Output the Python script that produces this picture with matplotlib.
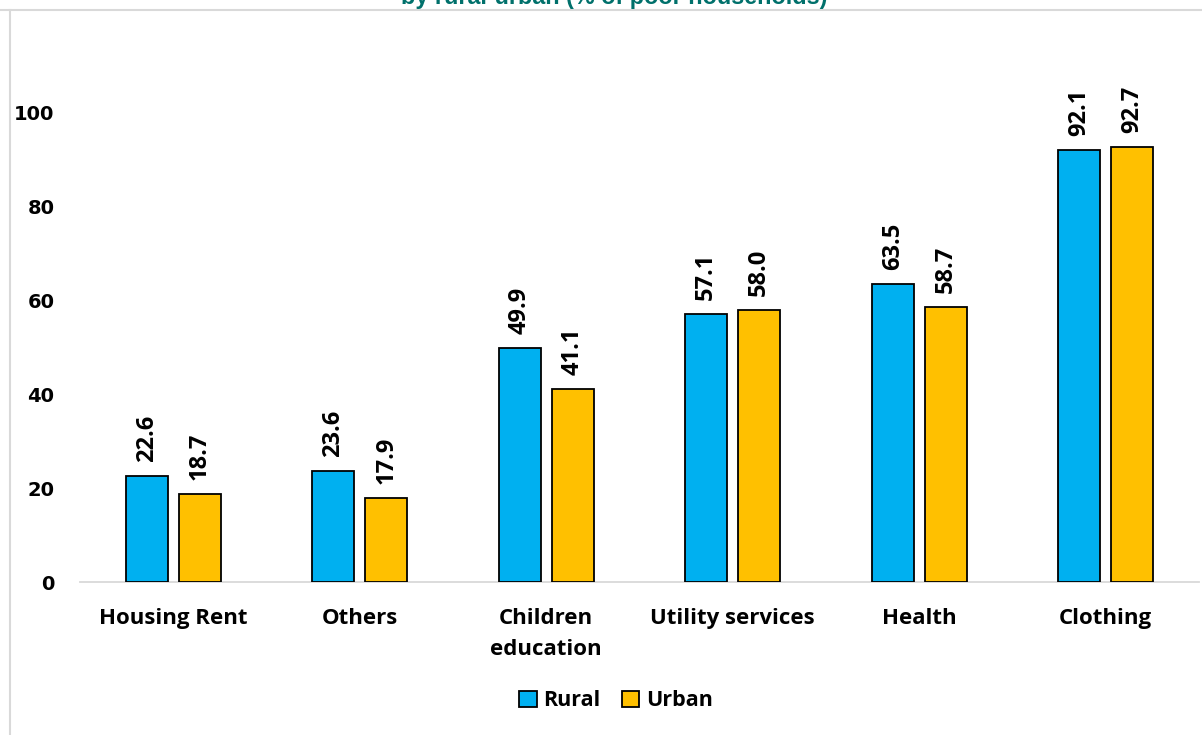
import matplotlib
matplotlib.use("Agg")
import matplotlib.pyplot as plt
from matplotlib.lines import Line2D
from matplotlib.patches import Patch
import numpy as np

# ---- data -----------------------------------------------------------------
categories = ["Housing Rent", "Others", "Children\neducation",
              "Utility services", "Health", "Clothing"]
rural = [22.6, 23.6, 49.9, 57.1, 63.5, 92.1]
urban = [18.7, 17.9, 41.1, 58.0, 58.7, 92.7]
yticks = [0, 20, 40, 60, 80, 100]
title = "by rural-urban (% of poor households)"

RURAL_C = "#00B0F0"
URBAN_C = "#FFC000"
GRID_C = "#D9D9D9"
FONT = "Open Sans"

fig = plt.figure(figsize=(12.02, 7.35), dpi=100)
ax = fig.add_axes([80 / 1202, (735 - 582) / 735, 1119 / 1202, 120 * 4.69 / 735])

x = np.arange(len(categories))
w = 0.225
off = 0.142
b1 = ax.bar(x - off, rural, w, color=RURAL_C, edgecolor="black", linewidth=1.3,
            label="Rural", zorder=3)
b2 = ax.bar(x + off, urban, w, color=URBAN_C, edgecolor="black", linewidth=1.3,
            label="Urban", zorder=3)

for bars in (b1, b2):
    for b in bars:
        ax.annotate(f"{b.get_height():.1f}",
                    (b.get_x() + b.get_width() / 2, b.get_height()),
                    xytext=(0, 10), textcoords="offset points",
                    rotation=90, ha="center", va="bottom",
                    fontsize=17, fontweight="bold", family=FONT)

ax.set_xlim(-0.5, len(categories) - 0.5)
ax.set_ylim(0, 120)
ax.set_yticks(yticks)
ax.set_yticklabels([str(t) for t in yticks], fontsize=14, fontweight="bold",
                   family="DejaVu Sans")
ax.set_xticks(x)
ax.set_xticklabels(categories, fontsize=16, fontweight="bold", family=FONT,
                   linespacing=1.6, va="top")
ax.tick_params(axis="both", length=0)
ax.tick_params(axis="y", pad=18.5)
ax.tick_params(axis="x", pad=19)
for s in ("top", "right", "left"):
    ax.spines[s].set_visible(False)
ax.spines["bottom"].set_color(GRID_C)
ax.spines["bottom"].set_linewidth(1.3)

handles = [Patch(facecolor=RURAL_C, edgecolor="black", linewidth=1.3),
           Patch(facecolor=URBAN_C, edgecolor="black", linewidth=1.3)]
fig.legend(handles, ["Rural", "Urban"], loc="center", bbox_to_anchor=(616 / 1202, 1 - 701 / 735),
           ncol=2, frameon=False, handlelength=0.8, handleheight=0.8,
           handletextpad=0.3, columnspacing=1.0,
           prop={"family": FONT, "weight": "bold", "size": 15.5})

# cut-off title and chart frame
fig.text(614 / 1202, 1 - 4 / 735, title, ha="center", va="baseline",
         fontsize=16.8, fontweight="bold", color="#00706B", family="Liberation Sans")
fig.add_artist(Line2D([0, 1], [1 - 10 / 735, 1 - 10 / 735], color=GRID_C, lw=1.5,
                      transform=fig.transFigure))
fig.add_artist(Line2D([10 / 1202, 10 / 1202], [0, 1 - 10 / 735], color=GRID_C, lw=1.5,
                      transform=fig.transFigure))

fig.savefig("out.png", dpi=100)
